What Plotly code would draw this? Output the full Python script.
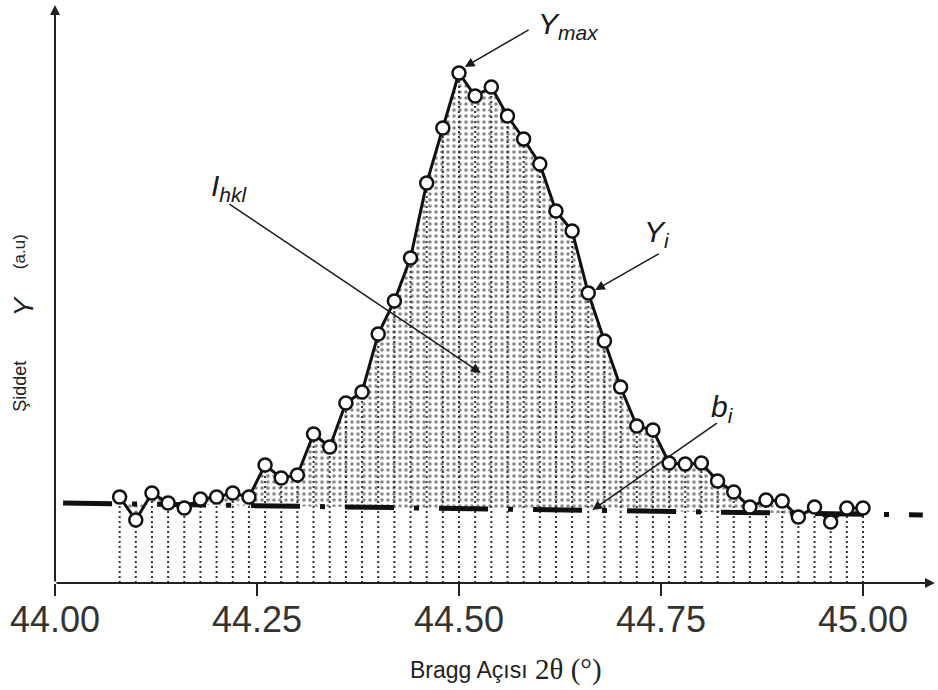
import plotly.graph_objects as go

# Diffraction peak scan: Bragg angle 2θ (degrees) and measured intensity (a.u.)
two_theta = [44.08, 44.10, 44.12, 44.14, 44.16, 44.18, 44.20, 44.22, 44.24, 44.26,
             44.28, 44.30, 44.32, 44.34, 44.36, 44.38, 44.40, 44.42, 44.44, 44.46,
             44.48, 44.50, 44.52, 44.54, 44.56, 44.58, 44.60, 44.62, 44.64, 44.66,
             44.68, 44.70, 44.72, 44.74, 44.76, 44.78, 44.80, 44.82, 44.84, 44.86,
             44.88, 44.90, 44.92, 44.94, 44.96, 44.98, 45.00]
intensity = [86, 63, 90, 80, 75, 84, 86, 90, 86, 118,
             105, 108, 149, 136, 180, 191, 249, 282, 325, 400,
             455, 510, 487, 496, 467, 444, 419, 372, 352, 290,
             242, 196, 157, 153, 120, 119, 120, 102, 91, 76,
             83, 82, 66, 76, 61, 75, 75]

# Linear background b_i drawn across the scan
background_x = [44.01, 45.074]
background_y = [80, 68]

tick_values = [44.00, 44.25, 44.50, 44.75, 45.00]
tick_labels = ["44.00", "44.25", "44.50", "44.75", "45.00"]


def background_at(x):
    x0, x1 = background_x
    y0, y1 = background_y
    return y0 + (y1 - y0) * (x - x0) / (x1 - x0)


bg_under_scan = [background_at(x) for x in two_theta]

fig = go.Figure()

# lower edge of the integrated area (background under each step)
fig.add_trace(go.Scatter(x=two_theta, y=bg_under_scan, mode="lines",
                         line=dict(width=0, color="rgba(0,0,0,0)"),
                         hoverinfo="skip", showlegend=False))

# stippled integrated intensity I_hkl between profile and background
fig.add_trace(go.Scatter(x=two_theta, y=intensity, mode="lines", fill="tonexty",
                         fillcolor="white",
                         fillpattern=dict(shape=".", fgcolor="#111111", bgcolor="white",
                                          size=6, solidity=0.28),
                         line=dict(width=0, color="rgba(0,0,0,0)"),
                         hoverinfo="skip", showlegend=False))

# dotted verticals from each step down to the axis
vx, vy = [], []
for x, y in zip(two_theta, intensity):
    vx += [x, x, None]
    vy += [0, y, None]
fig.add_trace(go.Scatter(x=vx, y=vy, mode="lines",
                         line=dict(color="#333333", width=2, dash="2px,3px"),
                         hoverinfo="skip", showlegend=False))

# background line (dash-dot)
fig.add_trace(go.Scatter(x=background_x, y=background_y, mode="lines",
                         line=dict(color="#111111", width=5, dash="49px,20px,5px,20px"),
                         hoverinfo="skip", showlegend=False))

# measured profile
fig.add_trace(go.Scatter(x=two_theta, y=intensity, mode="lines+markers",
                         line=dict(color="#111111", width=3),
                         marker=dict(symbol="circle", size=13, color="white",
                                     line=dict(color="#111111", width=2.5)),
                         showlegend=False))

X0, X1 = 44.0, 44.0 + 880 / 808
Y0, Y1 = 0, 578

sans = "Liberation Sans, Arial, sans-serif"
label_font = dict(family=sans, size=30, color="#1a1a1a")
arrow_style = dict(showarrow=True, arrowhead=2, arrowsize=1.3, arrowwidth=1.5,
                   arrowcolor="#1a1a1a", axref="x", ayref="y", text="")

annotations = [
    # axes with arrow tips
    dict(x=X1, y=0, ax=X0, ay=0, showarrow=True, arrowhead=2, arrowsize=1,
         arrowwidth=2, arrowcolor="#222222", axref="x", ayref="y", text=""),
    dict(x=X0, y=Y1, ax=X0, ay=0, showarrow=True, arrowhead=2, arrowsize=1,
         arrowwidth=2, arrowcolor="#222222", axref="x", ayref="y", text=""),
    # pointer arrows
    dict(x=44.505, y=515, ax=44.588, ay=554, standoff=2, **arrow_style),
    dict(x=44.527, y=210, ax=44.214, ay=380, **arrow_style),
    dict(x=44.662, y=290, ax=44.749, ay=330, standoff=6, **arrow_style),
    dict(x=44.665, y=73, ax=44.821, ay=161, **arrow_style),
    # labels
    dict(x=44.595, y=558, text="<i>Y<sub>max</sub></i>", showarrow=False,
         xanchor="left", yanchor="middle", font=label_font),
    dict(x=44.190, y=396, text="<i>I<sub>hkl</sub></i>", showarrow=False,
         xanchor="left", yanchor="middle", font=label_font),
    dict(x=44.726, y=350, text="<i>Y<sub>i</sub></i>", showarrow=False,
         xanchor="left", yanchor="middle", font=label_font),
    dict(x=44.809, y=175, text="<i>b<sub>i</sub></i>", showarrow=False,
         xanchor="left", yanchor="middle", font=label_font),
    # y-axis title pieces (paper coordinates, left of the plot area)
    dict(xref="paper", yref="paper", x=-0.040, y=0.341, text="Şiddet", textangle=-90,
         xanchor="center", yanchor="middle", showarrow=False,
         font=dict(family=sans, size=18, color="#222222")),
    dict(xref="paper", yref="paper", x=-0.036, y=0.479, text="<i>Y</i>", textangle=-90,
         xanchor="center", yanchor="middle", showarrow=False,
         font=dict(family=sans, size=28, color="#222222")),
    dict(xref="paper", yref="paper", x=-0.041, y=0.574, text="(a.u)", textangle=-90,
         xanchor="center", yanchor="middle", showarrow=False,
         font=dict(family=sans, size=17, color="#222222")),
    # x-axis title pieces
    dict(xref="paper", yref="paper", x=0.401, y=-0.1505, text="Bragg Açısı",
         showarrow=False, xanchor="left", yanchor="middle",
         font=dict(family="Liberation Sans Narrow, Liberation Sans, Arial, sans-serif",
                   size=23, color="#222222")),
    dict(xref="paper", yref="paper", x=0.543, y=-0.1505, text="2θ (°)",
         showarrow=False, xanchor="left", yanchor="middle",
         font=dict(family="Liberation Serif, Times New Roman, serif", size=29, color="#222222")),
]

fig.update_layout(
    width=938, height=690,
    margin=dict(l=55, r=3, t=5, b=107),
    paper_bgcolor="white", plot_bgcolor="white",
    showlegend=False,
    annotations=annotations,
    xaxis=dict(range=[X0, X1], showgrid=False, zeroline=False, showline=False,
               tickvals=tick_values, ticktext=tick_labels, ticks="outside",
               ticklen=12, tickwidth=1.5, tickcolor="#222222", ticklabelstandoff=-7,
               tickfont=dict(family="Liberation Sans Narrow, Liberation Sans, Arial, sans-serif",
                             size=36, color="#333333")),
    yaxis=dict(range=[Y0, Y1], showgrid=False, zeroline=False, showline=False,
               showticklabels=False, ticks=""),
)

fig.write_html("out.html")
